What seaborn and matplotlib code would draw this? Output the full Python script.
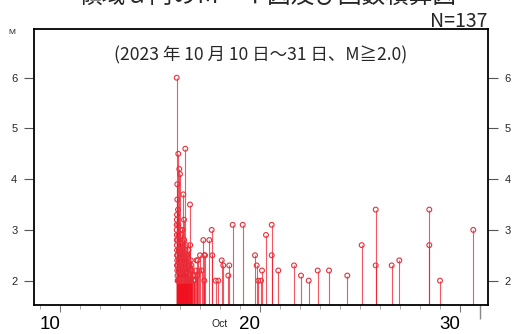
import matplotlib
matplotlib.use("Agg")
import matplotlib.pyplot as plt
import seaborn as sns
import pandas as pd

# Event times (day of October, fractional) and magnitudes
day = [16.835, 16.865, 16.865, 16.835, 16.835, 16.84, 16.845, 16.85, 16.855, 16.86,
       16.85, 16.865, 16.875, 16.88, 16.90, 16.915, 16.915, 16.925, 16.935, 16.94,
       16.95, 16.965, 16.975, 16.98, 16.99, 17.00, 17.01, 17.015, 17.025, 17.03,
       17.05, 17.06, 17.075, 17.085, 17.10, 17.115, 17.125, 17.14, 17.165, 17.175,
       17.185, 17.20, 17.21, 17.225, 17.24, 17.265, 17.275, 17.29, 17.30, 17.325,
       17.34, 17.36, 17.375, 17.40, 17.425, 17.45, 17.475, 17.50, 17.51, 17.53,
       17.55, 17.60, 17.65, 17.715, 17.775, 17.825, 17.865, 17.885, 17.965, 18.00,
       18.085, 18.165, 18.215, 18.215, 18.25, 18.465, 18.585, 18.615, 18.785, 18.915,
       19.085, 19.165, 19.415, 19.465, 19.635, 20.135, 20.75, 20.835, 20.915, 21.05,
       21.10, 21.30, 21.585, 21.585, 21.915, 22.70, 23.05, 23.435, 23.885, 24.45,
       25.365, 26.085, 26.785, 26.785, 27.585, 27.965, 29.465, 29.465, 30.00, 31.665,
       16.84, 16.84, 16.85, 16.875, 16.875, 16.90, 16.90, 16.93, 16.96, 16.96,
       17.04, 17.065, 17.09, 17.11, 17.15, 17.15, 17.19, 17.225, 17.25, 17.31,
       17.35, 17.41, 17.46, 17.54, 17.575, 17.675, 17.75]
mag = [6.0, 3.9, 3.6, 3.1, 3.0, 2.8, 2.7, 2.6, 2.5, 2.4,
       2.3, 2.2, 2.1, 2.0, 3.4, 4.5, 3.1, 2.9, 2.6, 2.2,
       2.0, 4.2, 2.8, 2.4, 2.1, 4.1, 3.0, 2.5, 2.3, 2.0,
       2.7, 2.2, 2.9, 2.4, 2.0, 3.0, 2.6, 2.1, 3.7, 2.5,
       2.3, 3.2, 2.8, 2.2, 2.0, 4.6, 2.6, 2.4, 2.1, 2.7,
       2.3, 2.5, 2.0, 2.2, 2.6, 2.1, 2.3, 3.5, 2.7, 2.2,
       2.0, 2.2, 2.1, 2.0, 2.2, 2.4, 2.1, 2.4, 2.2, 2.5,
       2.2, 2.8, 2.5, 2.0, 2.5, 2.8, 3.0, 2.5, 2.0, 2.0,
       2.4, 2.3, 2.1, 2.3, 3.1, 3.1, 2.5, 2.3, 2.0, 2.0,
       2.2, 2.9, 3.1, 2.5, 2.2, 2.3, 2.1, 2.0, 2.2, 2.2,
       2.1, 2.7, 3.4, 2.3, 2.3, 2.4, 3.4, 2.7, 2.0, 3.0,
       3.2, 2.9, 3.3, 2.5, 2.8, 2.3, 2.0, 2.4, 2.6, 2.2,
       2.6, 2.0, 2.5, 2.3, 2.0, 2.4, 2.7, 2.5, 2.3, 2.5,
       2.2, 2.4, 2.0, 2.4, 2.3, 2.0, 2.1]

y_ticks = [2, 3, 4, 5, 6]
x_label_days = [10, 20, 30]
x_label_text = ["10", "20", "30"]
title_text = "領域ａ内のＭ－Ｔ図及び回数積算図"
count_text = "N=137"
period_text = "(2023 年 10 月 10 日～31 日、M≧2.0)"

df = pd.DataFrame({"day": day, "mag": mag})

sns.set_style("white")
plt.rcParams["font.family"] = ["Liberation Sans Narrow", "Liberation Sans", "DejaVu Sans"]

fig = plt.figure(figsize=(5.14, 3.34), dpi=100)
ax = fig.add_axes([34 / 514, 29 / 334, 454 / 514, 276 / 334])

Y0, Y1 = 1.52, 6.96
ax.set_ylim(Y0, Y1)
ax.set_xlim(9.7, 32.4)

stem_color = "#f01020"
ax.vlines(df["day"], Y0, df["mag"], color=stem_color, lw=0.8, alpha=0.7, zorder=2)
sns.scatterplot(data=df, x="day", y="mag", marker="o", s=12, facecolor="none",
                edgecolor="#e8303c", linewidth=0.8, ax=ax, zorder=3, legend=False)

for sp in ax.spines.values():
    sp.set_color("black")
    sp.set_linewidth(1.3)

# y axis both sides
ax.set_yticks(y_ticks)
ax.set_yticklabels([str(v) for v in y_ticks])
ax.tick_params(axis="y", which="both", direction="out", length=7, width=0.8,
               color="#555555", labelsize=8, left=True, right=True,
               labelleft=True, labelright=True, pad=5)

# x axis: day ticks
ax.set_xticks(list(range(10, 33)), minor=True)
ax.set_xticks([11, 21, 31])
ax.set_xticklabels(["", "", ""])
ax.tick_params(axis="x", which="minor", direction="out", length=3, width=0.6,
               color="#999999", bottom=True)
ax.tick_params(axis="x", which="major", direction="out", length=5, width=0.8,
               color="#777777", bottom=True)
ax.vlines([32], -0.05, 0, transform=ax.get_xaxis_transform(), color="#888888",
          lw=1.0, clip_on=False)

trans = ax.get_xaxis_transform()
for d, t in zip(x_label_days, x_label_text):
    ax.text(d + 0.5, -0.04, t, transform=trans, ha="center", va="top",
            fontsize=13.5, color="black")
ax.text(19.0, -0.05, "Oct", transform=trans, ha="center", va="top", fontsize=7.5,
        color="#222222")
ax.set_xlabel("")
ax.set_ylabel("")

fig.text(12 / 514, 1 - 32 / 334, "M", fontsize=6, ha="center", va="center")

cjk = ["Noto Sans CJK JP", "DejaVu Sans"]
fig.text(268 / 514, 1 - 2.5 / 334, title_text, family=cjk, fontsize=17,
         ha="center", va="baseline")
fig.text(487 / 514, 1 - 27 / 334, count_text, family=cjk, fontsize=14,
         ha="right", va="baseline")
ax.text(0.5, 1 - 26 / 276, period_text, transform=ax.transAxes, family=cjk,
        fontsize=12.6, ha="center", va="center")

fig.savefig("out.png", dpi=100)
